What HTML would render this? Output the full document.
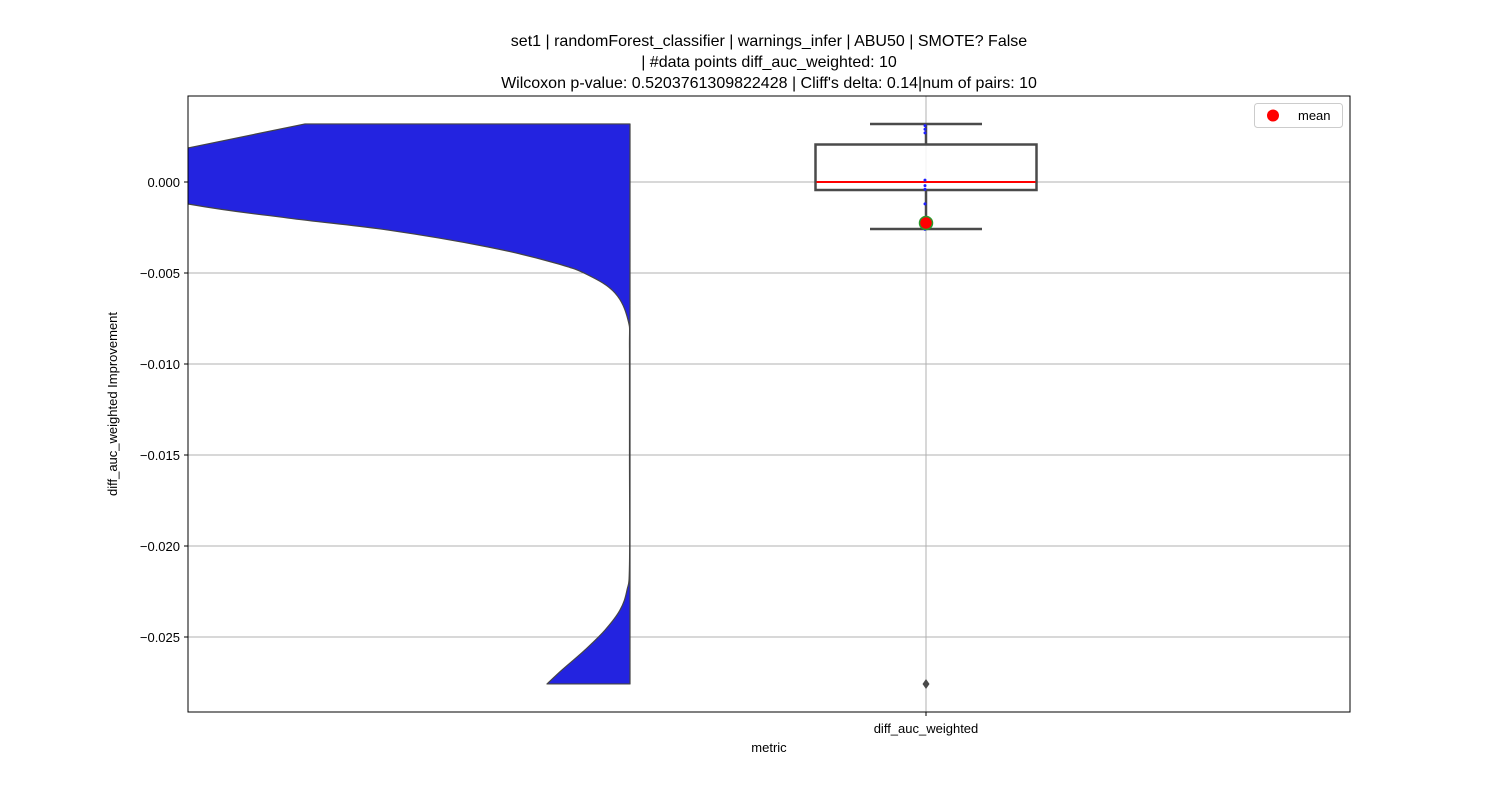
<!DOCTYPE html>
<html><head><meta charset="utf-8"><style>
body{margin:0;background:#fff;}
svg text{font-family:"Liberation Sans","DejaVu Sans",sans-serif;fill:#000;}
</style></head><body>
<svg id="c" width="1500" height="800" xmlns="http://www.w3.org/2000/svg">
<defs><clipPath id="pc"><rect x="188" y="96" width="1162" height="616"/></clipPath></defs>
<rect width="1500" height="800" fill="#fff"/>
<text x="769" y="46" font-size="16" text-anchor="middle">set1 | randomForest_classifier | warnings_infer | ABU50 | SMOTE? False</text>
<text x="769" y="67" font-size="16" text-anchor="middle">| #data points diff_auc_weighted: 10</text>
<text x="769" y="88" font-size="16" text-anchor="middle">Wilcoxon p-value: 0.5203761309822428 | Cliff's delta: 0.14|num of pairs: 10</text>
<g id="grid"></g>
<g id="marks" clip-path="url(#pc)"></g>
<rect x="188" y="96" width="1162" height="616" fill="none" stroke="#000" stroke-width="1"/>
<g id="axes"></g>
<text x="769" y="752" font-size="13" text-anchor="middle">metric</text>
<text transform="translate(117,404) rotate(-90)" font-size="13" text-anchor="middle">diff_auc_weighted Improvement</text>
<g>
<rect x="1254.5" y="103.5" width="88" height="24" rx="3" fill="#fff" stroke="#ccc"/>
<circle cx="1273" cy="115.5" r="6" fill="#ff0000"/>
<text x="1298" y="120" font-size="13">mean</text>
</g>
</svg>
<script>
const yTicks=[0.000,-0.005,-0.010,-0.015,-0.020,-0.025];
const yTickLabels=["0.000","\u22120.005","\u22120.010","\u22120.015","\u22120.020","\u22120.025"];
const categories=["diff_auc_weighted"];
const boxStats=[0.00319,0.00206,0.0,-0.00044,-0.00258];
const outliers=[-0.02758];
const meanValue=[-0.00225];
const stripPoints=[0.0031,0.0029,0.0027,0.0001,-0.0002,-0.0004,-0.0012,-0.0020,-0.0023,-0.0026];
const violinValues=[0.00319,0.00187,0.0005,-0.00121,-0.00198,-0.00264,-0.00357,-0.00445,-0.00511,-0.00610,-0.00758,-0.00923,-0.0150,-0.0210,-0.02242,-0.02352,-0.02462,-0.02571,-0.02681,-0.02758];
const violinDensity=[325,442,600,442,342,242,142,75,42,15,2,0.5,0.5,0.5,3,10,25,45,68,83];
const NS="http://www.w3.org/2000/svg";
const y0=182,pxPerUnit=18200;
function Y(v){return y0-v*pxPerUnit;}
function X(i){return 926+i*740;}
function mk(t,a,p){const e=document.createElementNS(NS,t);for(const k in a)e.setAttribute(k,a[k]);p.appendChild(e);return e;}
const grid=document.getElementById('grid'),marks=document.getElementById('marks'),axes=document.getElementById('axes');
yTicks.forEach((t,i)=>{
 const y=Y(t);
 const g=mk('line',{x1:188,x2:1350,y1:y,y2:y,stroke:'#b0b0b0','stroke-width':1},grid);
 
 
 mk('line',{x1:184,x2:188,y1:y,y2:y,stroke:'#000'},axes);
 const tx=mk('text',{x:180,y:y+5,'font-size':13,'text-anchor':'end'},axes);
 tx.textContent=yTickLabels[i];
 
 
});
categories.forEach((c,i)=>{
 const x=X(i);
 const g=mk('line',{x1:x,x2:x,y1:96,y2:712,stroke:'#b0b0b0'},grid);
 
 
 mk('line',{x1:x,x2:x,y1:712,y2:716,stroke:'#000'},axes);
 const tx=mk('text',{x:x,y:733,'font-size':13,'text-anchor':'middle'},axes);
 tx.textContent=c;
 
 
});
// half violin (left side, centered at x=630), smoothed
const vc=630;
const pts=violinValues.map((v,i)=>[vc-violinDensity[i],Y(v)]);
let d='M'+vc+','+pts[0][1]+' L'+pts[0][0]+','+pts[0][1];
for(let i=0;i<pts.length-1;i++){
 const p0=pts[Math.max(0,i-1)],p1=pts[i],p2=pts[i+1],p3=pts[Math.min(pts.length-1,i+2)];
 const t=(i===0)?0:0.18;
 const c1=[p1[0]+(p2[0]-p0[0])*t,p1[1]+(p2[1]-p0[1])*t];
 const c2=[p2[0]-(p3[0]-p1[0])*t,p2[1]-(p3[1]-p1[1])*t];
 d+=` C${c1[0]},${c1[1]} ${c2[0]},${c2[1]} ${p2[0]},${p2[1]}`;
}
d+=' L'+vc+','+pts[pts.length-1][1]+' Z';
const vp=mk('path',{d:d,fill:'#2323e0',stroke:'#444','stroke-width':1.2,'stroke-linejoin':'round'},marks);


// box plot
const bx=X(0),bw=221,cw=112;
const [wt,q3,med,q1,wb]=boxStats;
const wl1=mk('line',{x1:bx,x2:bx,y1:Y(wt),y2:Y(q3),stroke:'#4a4a4a','stroke-width':2.5},marks);


const wl2=mk('line',{x1:bx,x2:bx,y1:Y(q1),y2:Y(wb),stroke:'#4a4a4a','stroke-width':2.5},marks);


const c1=mk('line',{x1:bx-cw/2,x2:bx+cw/2,y1:Y(wt),y2:Y(wt),stroke:'#4a4a4a','stroke-width':2.5},marks);


const c2=mk('line',{x1:bx-cw/2,x2:bx+cw/2,y1:Y(wb),y2:Y(wb),stroke:'#4a4a4a','stroke-width':2.5},marks);


const box=mk('rect',{x:bx-bw/2,y:Y(q3),width:bw,height:Y(q1)-Y(q3),fill:'#fff','fill-opacity':0.85,stroke:'#4a4a4a','stroke-width':2.5},marks);


const ml=mk('line',{x1:bx-bw/2+1,x2:bx+bw/2-1,y1:Y(med),y2:Y(med),stroke:'#ff0000','stroke-width':2},marks);


stripPoints.forEach(v=>{
 const p=mk('circle',{cx:bx-1,cy:Y(v),r:1.5,fill:'#1f1fff'},marks);
 
 
});
outliers.forEach(v=>{
 const y=Y(v);
 const o=mk('path',{d:`M${bx},${y-5} L${bx+3.5},${y} L${bx},${y+5} L${bx-3.5},${y} Z`,fill:'#4a4a4a'},marks);
 
 
});
meanValue.forEach(v=>{
 const m=mk('circle',{cx:bx,cy:Y(v),r:6.5,fill:'#ff0000',stroke:'#2a9a2a','stroke-width':1.5},marks);
 
 
});
</script>
</body></html>
